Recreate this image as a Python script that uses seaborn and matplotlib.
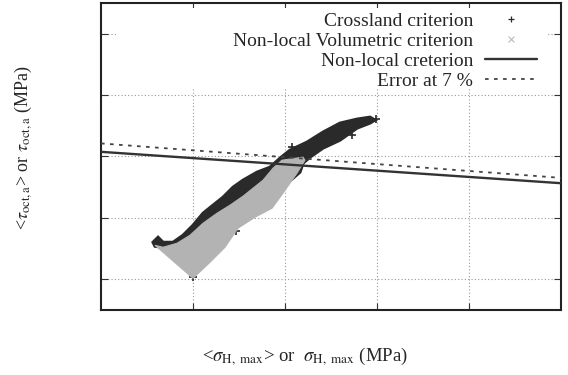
import numpy as np
import matplotlib
matplotlib.use("Agg")
import matplotlib.pyplot as plt
import seaborn as sns

# --- data (axis units, no tick labels in the original) ---
# outline of the dense Crossland point cloud (dark)
crossland_u = [0.565, 0.620, 0.674, 0.783, 0.891, 1.000, 1.109, 1.217, 1.326, 1.435,
               1.543, 1.696, 1.837, 1.946, 2.054, 2.239, 2.413, 2.598, 2.783, 2.924,
               2.978, 2.924, 2.783, 2.598, 2.413, 2.272, 2.196, 2.163, 2.000, 1.620,
               1.185, 0.750, 0.587]
crossland_v = [1.603, 1.685, 1.603, 1.603, 1.717, 1.880, 2.076, 2.207, 2.337, 2.500,
               2.614, 2.745, 2.826, 2.973, 3.103, 3.234, 3.397, 3.544, 3.609, 3.641,
               3.593, 3.544, 3.462, 3.266, 3.136, 2.989, 2.891, 2.745, 2.533, 2.207,
               1.832, 1.505, 1.538]
# a few isolated Crossland points
crossland_pts_u = [2.076, 2.728, 2.989, 1.467, 1.000]
crossland_pts_v = [3.152, 3.348, 3.609, 1.783, 1.030]

# outline of the dense non-local volumetric point cloud (light grey)
volumetric_u = [0.587, 1.000, 1.185, 1.348, 1.489, 1.674, 1.859, 1.978, 2.130, 2.217,
                2.196, 1.967, 1.870, 1.761, 1.543, 1.402, 1.261, 1.109, 0.967, 0.826,
                0.674]
volumetric_v = [1.554, 1.016, 1.277, 1.522, 1.832, 2.011, 2.158, 2.402, 2.728, 2.940,
                2.989, 2.940, 2.810, 2.614, 2.353, 2.207, 2.076, 1.913, 1.717, 1.587,
                1.522]

# criterion line and its 7 % error line
line_u = [0.0, 5.0]
nonlocal_v = [3.076, 2.565]
error_v = [3.213, 2.652]

labels = ["Crossland criterion", "Non-local Volumetric criterion",
          "Non-local creterion", "Error at 7 %"]

sns.set_style("ticks")
plt.rcParams["font.family"] = ["Liberation Serif", "DejaVu Serif"]
plt.rcParams["mathtext.fontset"] = "stix"

fig = plt.figure(figsize=(5.68, 3.75), dpi=100)
ax = fig.add_axes([101 / 568, 65 / 375, 460 / 568, 307 / 375])

dark = "#2a2a2a"
grey = "#b3b3b3"

ax.fill(crossland_u, crossland_v, color=dark, lw=2.2, ec=dark, zorder=3)
sns.scatterplot(x=crossland_pts_u, y=crossland_pts_v, marker="+", color=dark,
                s=30, linewidth=1.2, ax=ax, zorder=3)
ax.fill(volumetric_u, volumetric_v, color=grey, lw=0.8, ec=grey, zorder=4)

sns.lineplot(x=line_u, y=nonlocal_v, color="#333333", lw=1.7, ax=ax, zorder=5)
sns.lineplot(x=line_u, y=error_v, color="#444444", lw=1.3, ax=ax, zorder=5,
             linestyle=(0, (2, 3)))

ax.set_xlim(0, 5)
ax.set_ylim(0.5, 5.5)
ax.set_xticks([1, 2, 3, 4])
ax.set_yticks([1, 2, 3, 4, 5])
ax.tick_params(direction="in", length=5, top=True, right=True,
               labelbottom=False, labelleft=False, color="#333333")
ax.grid(True, color="#999999", lw=0.8, linestyle=(0, (1, 2)), zorder=1)
ax.set_axisbelow(True)
for s in ax.spines.values():
    s.set_linewidth(1.5)
    s.set_color("#222222")

# gnuplot style key: white area hiding the grid, right aligned labels
ax.fill([0.035, 0.972, 0.972, 0.035], [0.723, 0.723, 0.985, 0.985],
        transform=ax.transAxes, color="white", lw=0, zorder=2)

key_y = [(310 - 19) / 307, (310 - 39) / 307, (310 - 59) / 307, (310 - 79) / 307]
text_x = (473 - 101) / 460
h0, h1 = (485 - 101) / 460, (537 - 101) / 460
hm = (h0 + h1) / 2
for lab, y in zip(labels, key_y):
    ax.text(text_x, y - 2 / 307, lab, transform=ax.transAxes, ha="right",
            va="center", fontsize=14, zorder=6)
ax.plot([hm], [key_y[0]], marker="+", color=dark, ms=5, mew=0.9,
        transform=ax.transAxes, zorder=6)
ax.plot([hm], [key_y[1]], marker="x", color="#bbbbbb", ms=4, mew=0.8,
        transform=ax.transAxes, zorder=6)
ax.plot([h0, h1], [key_y[2]] * 2, color="#333333", lw=1.7,
        transform=ax.transAxes, zorder=6)
ax.plot([h0, h1], [key_y[3]] * 2, color="#444444", lw=1.3, linestyle=(0, (2, 3)),
        transform=ax.transAxes, zorder=6)

fig.text(305 / 568, 1 - 357 / 375,
         r"<$\sigma_{\mathrm{H,\ max}}$> or  $\sigma_{\mathrm{H,\ max}}$ (MPa)",
         ha="center", va="center", fontsize=13.5)
fig.text(23 / 568, 1 - 148 / 375,
         r"<$\tau_{\mathrm{oct,a}}$> or $\tau_{\mathrm{oct,a}}$ (MPa)",
         ha="center", va="center", rotation=90, fontsize=13)

fig.savefig("out.png", dpi=100)
